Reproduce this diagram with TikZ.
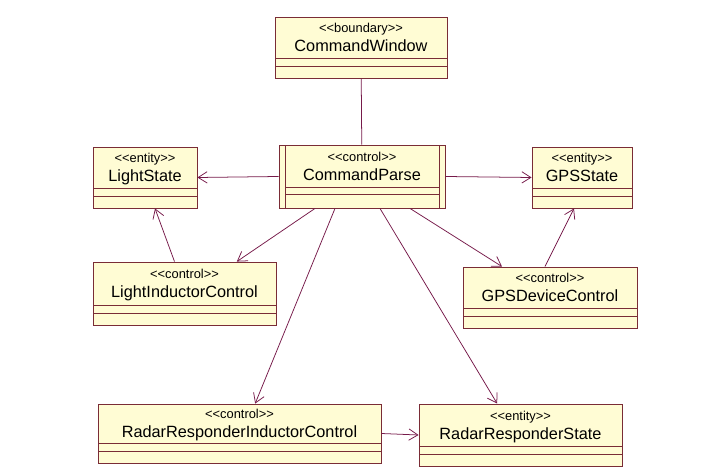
\documentclass[tikz,border=0pt]{standalone}
\usepackage{fontspec}
\setmainfont{Liberation Sans}
\usepackage{tikz}
\usetikzlibrary{arrows.meta}

\definecolor{classfill}{RGB}{255,252,212}
\definecolor{classline}{RGB}{122,44,54}
\definecolor{linkcol}{RGB}{118,26,74}

\newcommand{\stereo}[1]{{\fontsize{11}{12}\selectfont <{}<#1>{}>}}

\begin{document}
\begin{tikzpicture}[
  x=0.03cm, y=0.03cm,
  umlclass/.style 2 args={rectangle, draw=classline, fill=classfill, line width=0.75pt,
    minimum width=#1*0.03cm, minimum height=#2*0.03cm, inner sep=0pt,
    align=center, text depth=0.6cm, font=\fontsize{13.9}{16.2}\selectfont,
    path picture={
      \draw[classline, line width=0.75pt]
        ([yshift=0.36cm]path picture bounding box.south west) -- ([yshift=0.36cm]path picture bounding box.south east)
        ([yshift=0.6cm]path picture bounding box.south west) -- ([yshift=0.6cm]path picture bounding box.south east);}},
  activeclass/.style 2 args={umlclass={#1}{#2},
    path picture={
      \draw[classline, line width=0.75pt]
        ([xshift=0.18cm]path picture bounding box.south west) -- ([xshift=0.18cm]path picture bounding box.north west)
        ([xshift=-0.18cm]path picture bounding box.south east) -- ([xshift=-0.18cm]path picture bounding box.north east)
        ([shift={(0.18cm,0.4cm)}]path picture bounding box.south west) -- ([shift={(-0.18cm,0.4cm)}]path picture bounding box.south east)
        ([shift={(0.18cm,0.63cm)}]path picture bounding box.south west) -- ([shift={(-0.18cm,0.63cm)}]path picture bounding box.south east);}},
  link/.style={draw=linkcol, line width=0.65pt},
  >={Straight Barb[length=0.27cm, width=0.34cm]}
]
  \useasboundingbox (0,0) rectangle (717,471);

  % classes
  \node[umlclass={172}{61}]    (win)   at (361,423.5) {\stereo{boundary}\\ CommandWindow};
  \node[activeclass={166}{63}] (parse) at (362,294.5) {\stereo{control}\\ CommandParse};
  \node[umlclass={104}{61}]    (light) at (145,293.5) {\stereo{entity}\\ LightState};
  \node[umlclass={100}{61}]    (gps)   at (582,293.5) {\stereo{entity}\\ GPSState};
  \node[umlclass={183}{63}]    (lic)   at (184.5,177.5) {\stereo{control}\\ LightInductorControl};
  \node[umlclass={174}{61}]    (gpsdc) at (550,173.5) {\stereo{control}\\ GPSDeviceControl};
  \node[umlclass={283}{59}]    (rric)  at (239.5,37.5) {\stereo{control}\\ RadarResponderInductorControl};
  \node[umlclass={203}{62}]    (rrs)   at (520.5,36) {\stereo{entity}\\ RadarResponderState};

  % associations
  \draw[link] (win) -- (parse);
  \draw[link,->] (parse.west) -- (light.east);
  \draw[link,->] (parse.east) -- (gps.west);
  \draw[link,->] ([xshift=-0.3cm]lic.north) -- ([xshift=0.3cm]light.south);
  \draw[link,->] ([xshift=-0.15cm]gpsdc.north) -- ([xshift=-0.24cm]gps.south);
  \draw[link,->] ([xshift=-1.41cm]parse.south) -- ([xshift=1.57cm]lic.north);
  \draw[link,->] ([xshift=1.44cm]parse.south) -- ([xshift=-1.44cm]gpsdc.north);
  \draw[link,->] ([xshift=-0.81cm]parse.south) -- ([xshift=0.47cm]rric.north);
  \draw[link,->] ([xshift=0.54cm]parse.south) -- ([xshift=-0.7cm]rrs.north);
  \draw[link,->] (rric.east) -- (rrs.west);
\end{tikzpicture}
\end{document}
